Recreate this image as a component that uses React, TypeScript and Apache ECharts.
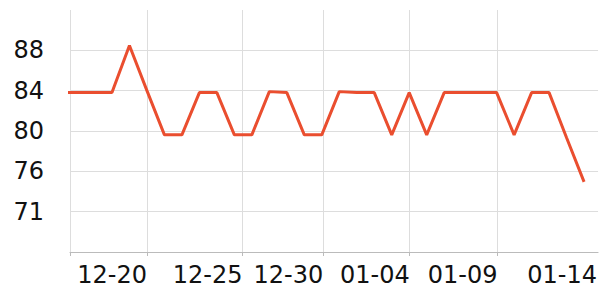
import React, { useEffect, useRef } from "react";
import * as echarts from "echarts";

// Day index (0 = 12-20 point) and the value read at each point
const dayIndex = [-5, -4, -3, -2, -1, 0, 1, 2, 3, 4, 5, 6, 7, 8, 9, 10, 11, 12, 13, 14, 15, 16, 17, 18, 19, 20, 21, 22, 23, 24, 25];
const values = [83.8, 83.8, 83.8, 83.8, 88.7, 84.0, 79.4, 79.4, 83.8, 83.8, 79.4, 79.4, 83.9, 83.8, 79.4, 79.4, 83.9, 83.8, 83.8, 79.4, 83.8, 79.4, 83.8, 83.8, 83.8, 83.8, 79.4, 83.8, 83.8, 79.1, 74.5];

// X tick labels and where they sit on the day-index scale
const tickLabels = ["12-20", "12-25", "12-30", "01-04", "01-09", "01-14"];
const tickPos = [0, 5.47, 10.08, 15.03, 20.05, 25.74];

// Y axis ticks
const yMin = 67.2;
const yMax = 92.4;
const yStep = 4.2;
const xMin = -4.4;
const xMax = 25.8;

export default function App() {
  const ref = useRef<HTMLDivElement>(null);
  useEffect(() => {
    if (!ref.current) return;
    const chart = echarts.init(ref.current, null, { renderer: "svg" });
    const data = dayIndex.map((d, i) => [d, values[i]]);
    chart.setOption({
      animation: false,
      backgroundColor: "#ffffff",
      grid: { left: 70, right: 0, top: 10, bottom: 48, containLabel: false },
      xAxis: {
        type: "value",
        min: xMin,
        max: xMax,
        axisLine: { show: true, lineStyle: { color: "#bbbbbb", width: 1 } },
        axisTick: {
          show: true,
          length: 4,
          lineStyle: { color: "#bbbbbb" },
          customValues: [xMin, ...tickPos.slice(0, 5)],
        },
        splitLine: { show: true, lineStyle: { color: "#dddddd", width: 1 } },
        axisLabel: {
          customValues: tickPos,
          align: "right",
          margin: 11,
          fontFamily: "DejaVu Sans",
          fontSize: 24,
          color: "#111111",
          formatter: (v: number) => {
            let best = 0;
            for (let i = 1; i < tickPos.length; i++) {
              if (Math.abs(tickPos[i] - v) < Math.abs(tickPos[best] - v)) best = i;
            }
            return tickLabels[best];
          },
        },
      },
      yAxis: {
        type: "value",
        min: yMin,
        max: yMax,
        interval: yStep,
        axisLine: { show: false },
        axisTick: { show: true, length: 4, lineStyle: { color: "#dddddd" } },
        splitLine: { show: true, showMaxLine: false, showMinLine: false, lineStyle: { color: "#dddddd", width: 1 } },
        axisLabel: {
          showMinLabel: false,
          showMaxLabel: false,
          margin: 26,
          fontFamily: "DejaVu Sans",
          fontSize: 24,
          color: "#111111",
          formatter: (v: number) => String(Math.round(v)),
        },
      },
      series: [
        {
          type: "line",
          data,
          showSymbol: false,
          symbol: "none",
          clip: true,
          lineStyle: { color: "#ea4e2f", width: 3 },
        },
      ],
    });
    return () => chart.dispose();
  }, []);
  return (
    <div
      ref={ref}
      style={{ position: "absolute", left: 0, top: 0, width: 600, height: 300 }}
    />
  );
}
